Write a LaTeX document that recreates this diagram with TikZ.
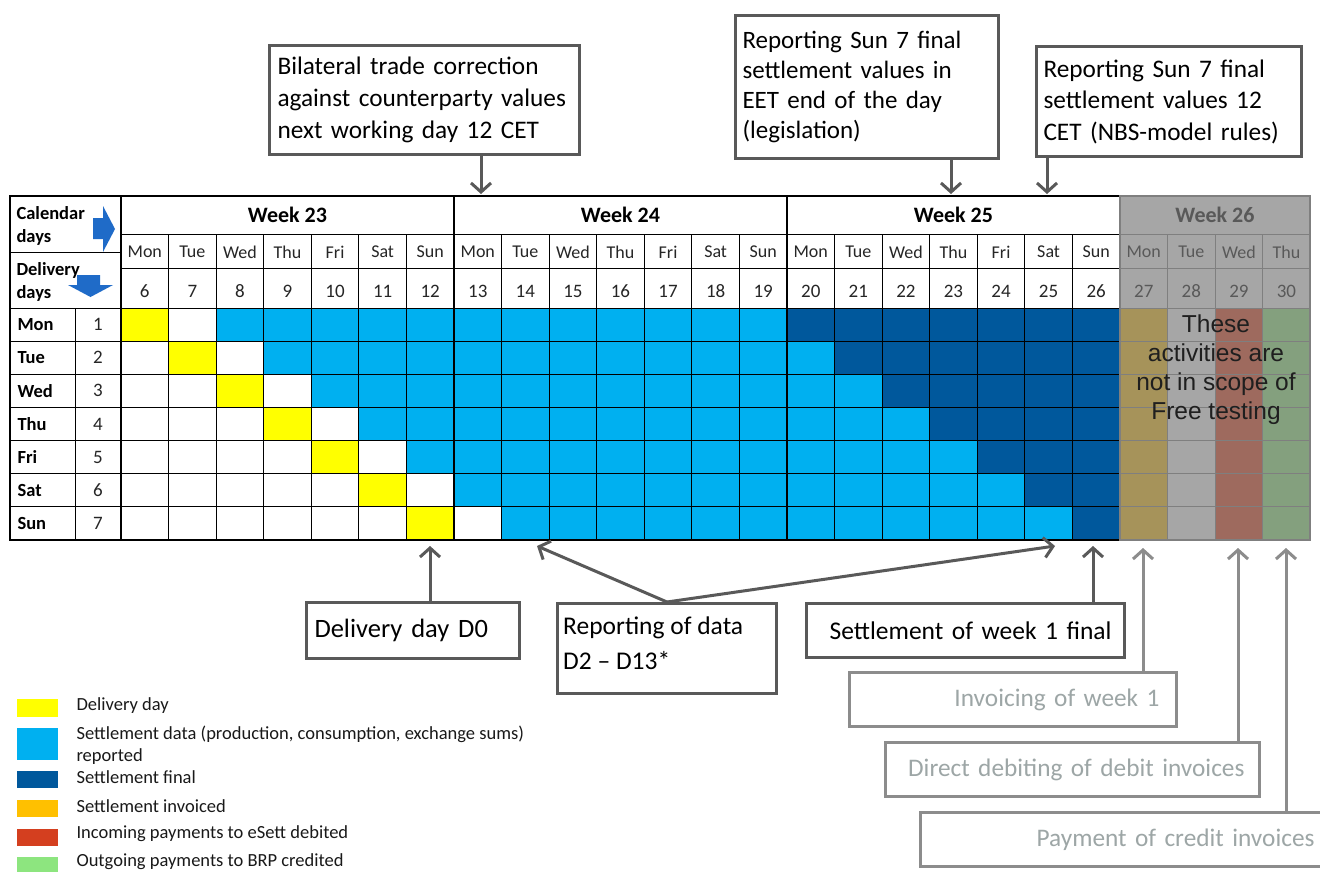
\documentclass[tikz,border=0pt]{standalone}
\usepackage{fontspec}
\setmainfont{Carlito}
\newfontfamily\arialf{Liberation Sans}
\usetikzlibrary{arrows.meta}
\definecolor{dgray}{HTML}{595959}
\definecolor{lgray}{HTML}{8C8C8C}
\definecolor{ltxt}{HTML}{9DA6A6}
\definecolor{yel}{HTML}{FFFF00}
\definecolor{lblue}{HTML}{00B0F0}
\definecolor{dblue}{HTML}{00589C}
\definecolor{cmon}{HTML}{A6935A}
\definecolor{ctue}{HTML}{A6A6A6}
\definecolor{cwed}{HTML}{9E6A5E}
\definecolor{cthu}{HTML}{84A07E}
\definecolor{wtxt}{HTML}{595959}
\definecolor{gline}{HTML}{7F7F7F}
\definecolor{orng}{HTML}{FFC000}
\definecolor{redd}{HTML}{D43F1F}
\definecolor{grn}{HTML}{8DE57F}
\definecolor{arrblue}{HTML}{1F6BC8}
\newcommand\mydayname[1]{\ifcase#1 Mon\or Tue\or Wed\or Thu\or Fri\or Sat\or Sun\fi}
\def\cw{47.57}
\def\rh{33.14}
\tikzset{
  gridln/.style={line width=0.9pt, draw=black},
  gridbold/.style={line width=2.4pt, draw=black},
  wkln/.style={line width=0.9pt, draw=gline},
  wkbold/.style={line width=2.4pt, draw=gline},
  weektxt/.style={font=\fontsize{22}{26}\selectfont\bfseries},
  daytxt/.style={font=\fontsize{18}{21}\selectfont},
  numtxt/.style={font=\fontsize{19}{22}\selectfont},
  rowtxt/.style={font=\fontsize{18.5}{21}\selectfont\bfseries},
  hdrtxt/.style={font=\fontsize{18.5}{23}\selectfont\bfseries, align=left, anchor=west},
  topbox/.style={draw=dgray, line width=3pt, fill=white, inner xsep=8pt, inner ysep=0pt, align=left, anchor=north west, font=\fontsize{25.3}{31.5}\selectfont, text=black},
  botbox/.style={draw=dgray, line width=3pt, fill=white, inner xsep=8pt, inner ysep=0pt, align=left, anchor=north west, font=\fontsize{25.5}{34}\selectfont, text=black},
  graybox/.style={draw=lgray, line width=3pt, fill=white, inner ysep=0pt, align=right, anchor=north west, font=\fontsize{25.3}{32}\selectfont, text=ltxt},
  darr/.style={draw=dgray, line width=3pt, -{Straight Barb[length=9pt,width=20pt]}},
  garr/.style={draw=lgray, line width=3pt, -{Straight Barb[length=9pt,width=20pt]}},
  legtxt/.style={font=\fontsize{18.5}{22}\selectfont, anchor=west, align=left, text=black!90},
}
\begin{document}
\begin{tikzpicture}[x=1pt,y=-1pt]
\useasboundingbox (0,0) rectangle (1320,872);
\clip (0,0) rectangle (1320,872);
\fill[white] (0,0) rectangle (1320,872);

% ---- cell fills ----
\foreach \r in {1,...,7}{
  \foreach \i in {0,...,20}{
    \pgfmathtruncatemacro\k{\i-\r+1}
    \ifnum\k=0 \def\cc{yel}\else\ifnum\k<2 \def\cc{white}\else\ifnum\k<14 \def\cc{lblue}\else\def\cc{dblue}\fi\fi\fi
    \fill[\cc] ({121+\cw*\i},{308+\rh*(\r-1)}) rectangle ++(\cw,\rh);
  }
}
\fill[ctue] (1120,196) rectangle (1310,308);
\foreach \i/\c in {21/cmon,22/ctue,23/cwed,24/cthu}
  \fill[\c] ({121+\cw*\i},308) rectangle ++(\cw,232);

% ---- grid lines ----
\foreach \j in {1,...,6} \draw[gridln] (10,{308+\rh*\j}) -- (1120,{308+\rh*\j});
\draw[gridln] (10,308) -- (1120,308);
\draw[gridln] (121,234) -- (1120,234);
\draw[gridln] (121,268) -- (1120,268);
\draw[gridln] (10,252) -- (121,252);
\draw[gridln] (75,308) -- (75,540);
\foreach \i in {1,...,20} \draw[gridln] ({121+\cw*\i},234) -- ({121+\cw*\i},540);
\foreach \i in {0,7,14} \draw[gridbold] ({121+\cw*\i},196) -- ({121+\cw*\i},540);
\draw[gridbold] (10,196) rectangle (1120,540);
% week 26
\foreach \j in {1,...,6} \draw[wkln] (1120,{308+\rh*\j}) -- (1310,{308+\rh*\j});
\draw[wkln] (1120,234) -- (1310,234);
\draw[wkln] (1120,268) -- (1310,268);
\draw[wkln] (1120,308) -- (1310,308);
\foreach \i in {22,23,24} \draw[wkln] ({121+\cw*\i},234) -- ({121+\cw*\i},540);
\draw[wkbold] (1120,196) rectangle (1310,540);

% ---- header texts ----
\node[weektxt] (w23) at (287.5,215) {Week 23};
\node[weektxt] (w24) at (620.5,215) {Week 24};
\node[weektxt] (w25) at (953.5,215) {Week 25};
\node[weektxt, text=wtxt] (w26) at (1215,215) {Week 26};
\foreach \i in {0,...,24}{
  \pgfmathtruncatemacro\dm{mod(\i,7)}
  \pgfmathtruncatemacro\dt{\i+6}
  \ifnum\i>20 \def\tc{wtxt}\else\def\tc{black!85}\fi
  \node[daytxt, text=\tc] (dn\i) at ({121+\cw*(\i+0.5)},252) {\mydayname{\dm}};
  \node[numtxt, text=\tc] (dd\i) at ({121+\cw*(\i+0.5)},291) {\dt};
}
\node[hdrtxt] (cal) at (13,226) {Calendar\\days};
\node[hdrtxt] (del) at (13,282) {Delivery\\days};
\fill[arrblue] (93,218) -- (103,218) -- (103,206) -- (115,229) -- (103,252) -- (103,239) -- (93,239) -- cycle;
\fill[arrblue] (77,275) -- (100,275) -- (100,285) -- (113,285) -- (90.5,297) -- (68,285) -- (77,285) -- cycle;
\foreach \r/\n in {1/Mon,2/Tue,3/Wed,4/Thu,5/Fri,6/Sat,7/Sun}{
  \node[rowtxt, anchor=west] (rl\r) at (14,{308+\rh*(\r-0.5)}) {\n};
  \node[numtxt, text=black!85] (rn\r) at (98,{308+\rh*(\r-0.5)}) {\r};
}
\node[font=\arialf\fontsize{24.5}{29}\selectfont, align=center, text=black!88] (scope) at (1216,369.5)
  {These\\activities are\\not in scope of\\Free testing};

% ---- top boxes ----
\node[topbox, font=\fontsize{25.3}{32}\selectfont, minimum width=310, minimum height=109, text width=294] (boxA) at (268,44)
  {\mbox{Bilateral trade correction}\\\mbox{against counterparty values}\\\mbox{next working day 12 CET}};
\node[topbox, font=\fontsize{25}{30}\selectfont, minimum width=263, minimum height=143, text width=249, inner xsep=7pt] (boxB) at (734,14)
  {\mbox{Reporting Sun 7 final}\\\mbox{settlement values in}\\\mbox{EET end of the day}\\\mbox{(legislation)}};
\node[topbox, minimum width=265, minimum height=110, text width=251, inner xsep=7pt] (boxC) at (1035,45)
  {\mbox{Reporting Sun 7 final}\\\mbox{settlement values 12}\\\mbox{CET (NBS-model rules)}};
\coordinate (tA) at (481,194);
\coordinate (tB) at (951,194);
\coordinate (tC) at (1047,194);
\draw[darr] (boxA.south -| tA) -- (tA);
\draw[darr] (boxB.south -| tB) -- (tB);
\draw[darr] (boxC.south -| tC) -- (tC);

% ---- bottom boxes ----
\node[botbox, font=\fontsize{26.5}{34}\selectfont, minimum width=213, minimum height=56, text width=197] (boxD) at (305,601) {\mbox{Delivery day D0}};
\node[botbox, minimum width=219, minimum height=90] (boxE) at (556,602) {};
\node[anchor=north west, inner sep=0pt, align=left, font=\fontsize{25.5}{35}\selectfont] (boxEtxt) at (563,617) {Reporting of data\\D2 -- D13*};
\node[botbox, align=right, minimum width=318, minimum height=54, text width=292, inner xsep=13pt] (boxF) at (805,602) {\mbox{Settlement of week 1 final}};
\node[graybox, minimum width=327, minimum height=54, text width=293, inner xsep=17pt] (boxG) at (848,671) {\mbox{Invoicing of week 1}};
\node[graybox, minimum width=374, minimum height=54, text width=344, inner xsep=15pt] (boxH) at (884,741) {\mbox{Direct debiting of debit invoices}};
\node[graybox, minimum width=420, minimum height=54, text width=368, inner xsep=26pt] (boxI) at (919,811) {\mbox{Payment of credit invoices}};

\coordinate (bD) at (430,546);
\coordinate (bE1) at (537,546);
\coordinate (bE2) at (1055,546);
\coordinate (bF) at (1093,546);
\coordinate (bG) at (1143,548);
\coordinate (bH) at (1238,548);
\coordinate (bI) at (1286,548);
\draw[darr] (boxD.north -| bD) -- (bD);
\draw[darr] (boxE.north) -- (bE1);
\draw[darr] (boxE.north) -- (bE2);
\draw[darr] (boxF.north -| bF) -- (bF);
\draw[garr] (boxG.north -| bG) -- (bG);
\draw[garr] (boxH.north -| bH) -- (bH);
\draw[garr] (boxI.north -| bI) -- (bI);

% ---- legend ----
\fill[yel] (17,699) rectangle (58,717);
\node[legtxt] (l1) at (73,706) {Delivery day};
\fill[lblue] (17,728) rectangle (58,760);
\node[legtxt] (l2) at (73,745) {Settlement data (production, consumption, exchange sums)\\reported};
\fill[dblue] (17,771) rectangle (58,788);
\node[legtxt] (l3) at (73,777) {Settlement final};
\fill[orng] (17,800) rectangle (58,817);
\node[legtxt] (l4) at (73,806) {Settlement invoiced};
\fill[redd] (17,829) rectangle (58,846);
\node[legtxt] (l5) at (73,834) {Incoming payments to eSett debited};
\fill[grn] (17,857) rectangle (58,874);
\node[legtxt] (l6) at (73,862) {Outgoing payments to BRP credited};
\end{tikzpicture}
\end{document}
